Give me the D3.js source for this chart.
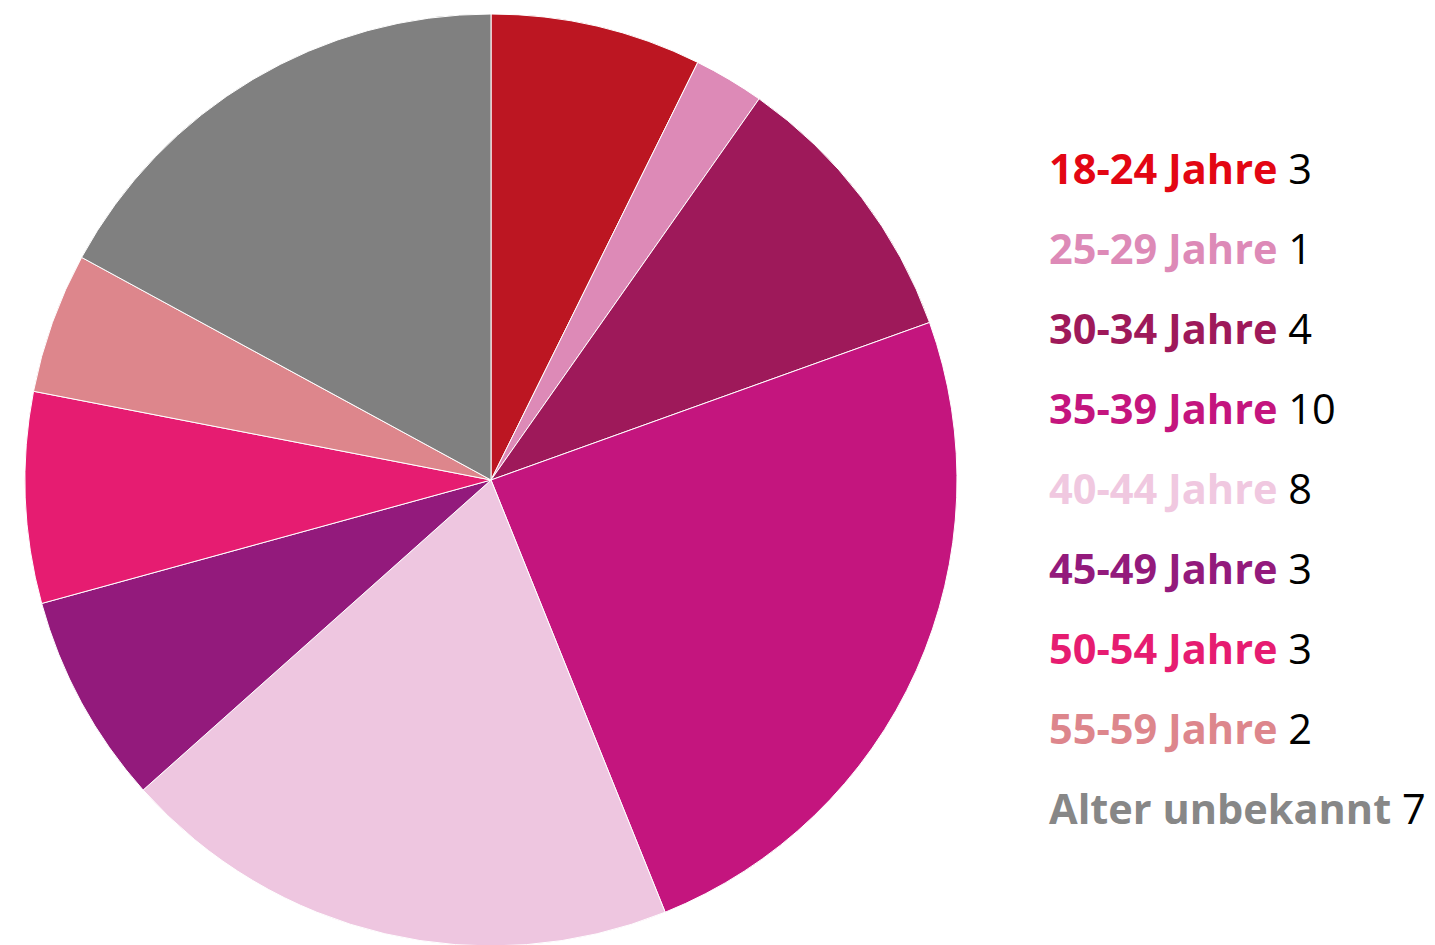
<!DOCTYPE html>
<html>
<head>
<meta charset="utf-8">
<script src="https://cdn.jsdelivr.net/npm/d3@7"></script>
<style>
  body { margin: 0; background: #fff; }
  svg { display: block; font-family: "Open Sans", "Noto Sans", sans-serif; }
</style>
</head>
<body>
<div id="chart"></div>
<script>
const categories = ["18-24 Jahre", "25-29 Jahre", "30-34 Jahre", "35-39 Jahre", "40-44 Jahre",
  "45-49 Jahre", "50-54 Jahre", "55-59 Jahre", "Alter unbekannt"];
const values = [3, 1, 4, 10, 8, 3, 3, 2, 7];
const sliceColors = ["#bc1622", "#dd8ab7", "#9e195a", "#c4157e", "#eec6e0",
  "#931a7c", "#e61c71", "#dd868c", "#808080"];
const labelColors = ["#e30613", "#dd8ab7", "#9e195a", "#c4157e", "#f0c8e0",
  "#931a7c", "#e61c71", "#dd868c", "#878787"];

const width = 1435, height = 945;
const cx = 491, cy = 480, radius = 466;

const data = categories.map((c, i) => ({ name: c, value: values[i], i }));

const svg = d3.select("#chart").append("svg")
  .attr("width", width)
  .attr("height", height)
  .attr("viewBox", [0, 0, width, height]);

const pie = d3.pie().value((d) => d.value).sort(null);
const arc = d3.arc().innerRadius(0).outerRadius(radius);

svg.append("g")
  .attr("transform", `translate(${cx},${cy})`)
  .selectAll("path")
  .data(pie(data))
  .join("path")
  .attr("d", arc)
  .attr("fill", (d) => sliceColors[d.data.i])
  .attr("stroke", "#fff")
  .attr("stroke-width", 1);

const legendY = d3.scalePoint().domain(categories).range([184, 824]);

const item = svg.append("g")
  .selectAll("text")
  .data(data)
  .join("text")
  .attr("x", 1049)
  .attr("y", (d) => legendY(d.name))
  .attr("font-size", 41.5);

item.append("tspan")
  .attr("font-weight", 700)
  .attr("fill", (d) => labelColors[d.i])
  .text((d) => d.name);
item.append("tspan")
  .attr("fill", "#000")
  .text((d) => " " + d.value);
</script>
</body>
</html>
